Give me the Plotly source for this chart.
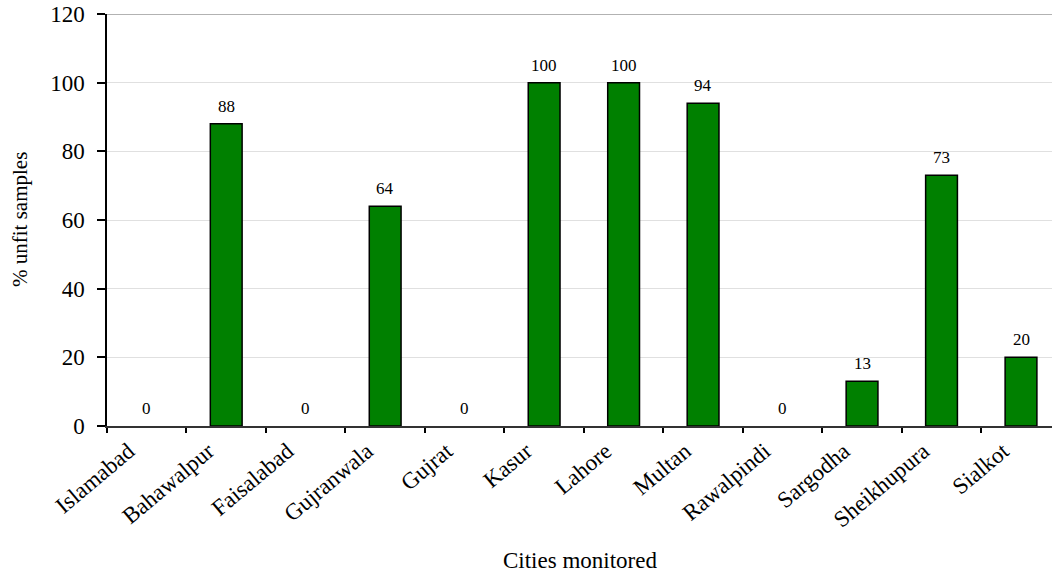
import plotly.graph_objects as go

cities = ["Islamabad", "Bahawalpur", "Faisalabad", "Gujranwala", "Gujrat", "Kasur",
          "Lahore", "Multan", "Rawalpindi", "Sargodha", "Sheikhupura", "Sialkot"]
unfit_pct = [0, 88, 0, 64, 0, 100, 100, 94, 0, 13, 73, 20]
y_ticks = [0, 20, 40, 60, 80, 100, 120]

FONT = "Liberation Serif, Times New Roman, serif"

fig = go.Figure()
fig.add_trace(go.Bar(
    x=cities, y=unfit_pct,
    width=0.4,
    marker=dict(color="#008000",
                line=dict(color="black", width=[1.5 if v > 0 else 0 for v in unfit_pct])),
    hoverinfo="x+y",
))

for c, v in zip(cities, unfit_pct):
    fig.add_annotation(x=c, y=v, text=str(v), showarrow=False,
                       yanchor="bottom", yshift=6,
                       font=dict(family=FONT, size=17, color="black"))

fig.add_shape(type="line", xref="paper", yref="y", x0=0, x1=1, y0=120, y1=120,
              line=dict(color="#999999", width=1.5))

# axis titles
fig.add_annotation(xref="paper", yref="paper", x=0.5, y=0, yanchor="middle",
                   yshift=-134, showarrow=False, text="Cities monitored",
                   font=dict(family=FONT, size=23, color="black"))
fig.add_annotation(xref="paper", yref="paper", x=0, y=0.5, xanchor="center",
                   xshift=-87, textangle=-90, showarrow=False, text="% unfit samples",
                   font=dict(family=FONT, size=21, color="black"))

fig.update_layout(
    width=1052, height=573,
    margin=dict(l=107, r=0, t=14, b=147),
    plot_bgcolor="white", paper_bgcolor="white",
    font=dict(family=FONT, color="black"),
    showlegend=False,
    xaxis=dict(
        range=[-0.5, 11.39],
        automargin=False,
        tickson="boundaries",
        ticks="outside", ticklen=5, tickcolor="black", tickwidth=1.5,
        tickangle=-40,
        ticklabelshift=-18,
        ticklabelstandoff=1,
        tickfont=dict(family=FONT, size=23, color="black"),
        showline=True, linecolor="#333333", linewidth=1.5,
        showgrid=False,
    ),
    yaxis=dict(
        range=[0, 120],
        automargin=False,
        tickvals=y_ticks,
        ticks="outside", ticklen=8, tickcolor="black", tickwidth=1.5,
        tickfont=dict(family=FONT, size=23, color="black"),
        ticklabelstandoff=8,
        ticklabeloverflow="allow",
        showline=True, linecolor="black", linewidth=1.5,
        showgrid=True, gridcolor="#e0e0e0", gridwidth=1,
        zeroline=False,
    ),
)

fig.write_html("out.html", config={"displayModeBar": False},
               post_script="document.body.style.margin='0';")
